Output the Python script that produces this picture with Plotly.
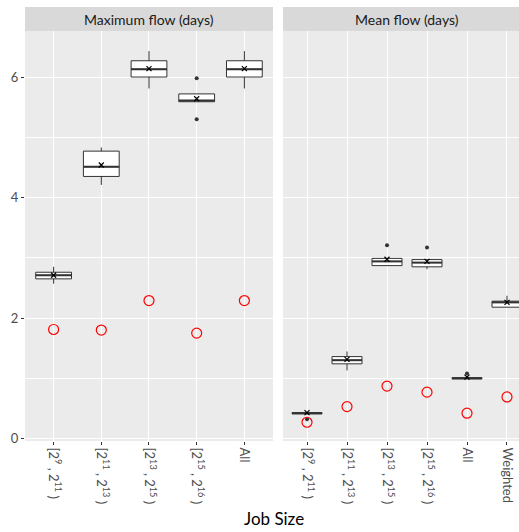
import plotly.graph_objects as go
from plotly.subplots import make_subplots

# ---------------- data ----------------
max_labels = ["[2<sup>9</sup> , 2<sup>11</sup> )", "[2<sup>11</sup> , 2<sup>13</sup> )",
              "[2<sup>13</sup> , 2<sup>15</sup> )", "[2<sup>15</sup> , 2<sup>16</sup> )", "All"]
mean_labels = max_labels + ["Weighted"]

max_q1 = [2.65, 4.35, 6.00, 5.59, 6.00]
max_median = [2.71, 4.51, 6.13, 5.61, 6.13]
max_q3 = [2.76, 4.77, 6.27, 5.72, 6.27]
max_low = [2.57, 4.21, 5.81, 5.59, 5.81]
max_high = [2.85, 4.83, 6.43, 5.72, 6.43]
max_avg = [2.71, 4.54, 6.14, 5.64, 6.14]
max_out_cat = [3, 3]
max_out_val = [5.98, 5.30]
max_ref = [1.81, 1.80, 2.29, 1.75, 2.29]

mean_q1 = [0.41, 1.24, 2.87, 2.85, 0.99, 2.18]
mean_median = [0.42, 1.30, 2.94, 2.92, 1.00, 2.26]
mean_q3 = [0.43, 1.36, 2.99, 2.97, 1.01, 2.28]
mean_low = [0.40, 1.13, 2.87, 2.81, 0.99, 2.18]
mean_high = [0.44, 1.445, 2.99, 2.97, 1.01, 2.37]
mean_avg = [0.43, 1.315, 2.975, 2.94, 1.02, 2.26]
mean_out_cat = [0, 2, 3, 4]
mean_out_val = [0.32, 3.21, 3.17, 1.08]
mean_ref = [0.27, 0.53, 0.87, 0.77, 0.42, 0.69]

panel_titles = ["Maximum flow (days)", "Mean flow (days)"]
x_title = "Job Size"

# ---------------- figure ----------------
BOXW = 0.75
fig = make_subplots(rows=1, cols=2, shared_yaxes=True, horizontal_spacing=0.02)

def add_panel(col, q1, med, q3, lo, hi, avg, ocat, oval, ref):
    cats = list(range(len(q1)))
    fig.add_trace(go.Box(x=cats, q1=q1, median=med, q3=q3, lowerfence=lo, upperfence=hi,
                         width=BOXW, fillcolor="white", whiskerwidth=0, boxpoints=False,
                         line=dict(color="#333333", width=1), showlegend=False,
                         hoverinfo="skip"), row=1, col=col)
    mx, my = [], []
    for i, m in enumerate(med):
        mx += [i - BOXW / 2, i + BOXW / 2, None]
        my += [m, m, None]
    fig.add_trace(go.Scatter(x=mx, y=my, mode="lines", line=dict(color="#333333", width=2),
                             showlegend=False, hoverinfo="skip"), row=1, col=col)
    fig.add_trace(go.Scatter(x=ocat, y=oval, mode="markers",
                             marker=dict(color="#333333", size=4), showlegend=False),
                  row=1, col=col)
    fig.add_trace(go.Scatter(x=cats, y=avg, mode="markers",
                             marker=dict(symbol="x-thin", size=5, color="black",
                                         line=dict(color="black", width=1.2)),
                             showlegend=False), row=1, col=col)
    fig.add_trace(go.Scatter(x=cats, y=ref, mode="markers",
                             marker=dict(symbol="circle-open", size=10, color="#FF0000",
                                         line=dict(color="#FF0000", width=1.2)),
                             showlegend=False), row=1, col=col)

add_panel(1, max_q1, max_median, max_q3, max_low, max_high, max_avg, max_out_cat, max_out_val, max_ref)
add_panel(2, mean_q1, mean_median, mean_q3, mean_low, mean_high, mean_avg, mean_out_cat, mean_out_val, mean_ref)

FONT = "Lato, 'Open Sans', sans-serif"
xcommon = dict(showgrid=True, gridcolor="white", gridwidth=1.1, zeroline=False,
               ticks="outside", ticklen=3, tickcolor="#333333", tickangle=90,
               tickfont=dict(family=FONT, size=13, color="#4D4D4D"), showline=False)
fig.update_xaxes(domain=[0, 0.502], range=[-0.6, 4.6], tickvals=list(range(len(max_labels))),
                 ticktext=max_labels, row=1, col=1, **xcommon)
fig.update_xaxes(domain=[0.5223, 1], range=[-0.6, 5.3], tickvals=list(range(len(mean_labels))),
                 ticktext=mean_labels, row=1, col=2, **xcommon)
fig.update_yaxes(range=[-0.041, 6.764], tick0=0, dtick=2, showgrid=True, gridcolor="white",
                 gridwidth=1.1, zeroline=False, ticks="outside", ticklen=3, tickcolor="#333333",
                 tickfont=dict(family=FONT, size=13, color="#4D4D4D"),
                 minor=dict(dtick=1, tick0=0, showgrid=True, gridcolor="white", gridwidth=0.5,
                            ticks=""))
fig.update_yaxes(ticks="", showticklabels=False, row=1, col=2)

STRIP_H = 24 / 411
for xr, xc, title in [("x", 2, panel_titles[0]), ("x2", 2.5, panel_titles[1])]:
    fig.add_shape(type="rect", xref=xr + " domain", yref="paper", x0=0, x1=1,
                  y0=1, y1=1 + STRIP_H, fillcolor="#D9D9D9", line=dict(width=0), layer="below")
    fig.add_annotation(text=title, xref=xr, yref="paper", x=xc, y=1 + STRIP_H / 2,
                       showarrow=False, xanchor="center", yanchor="middle",
                       font=dict(family=FONT, size=14, color="#1A1A1A"))

fig.add_annotation(text=x_title, xref="paper", yref="paper", x=0.505, y=-77.5 / 411,
                   showarrow=False, xanchor="center", yanchor="middle",
                   font=dict(family=FONT, size=17, color="black"))

fig.update_layout(width=519, height=532, margin=dict(l=25, r=0, t=31, b=90.5),
                  plot_bgcolor="#EBEBEB", paper_bgcolor="white", showlegend=False,
                  font=dict(family=FONT))

fig.write_html("out.html", config={"displayModeBar": False},
               post_script="document.body.style.margin='0';document.body.style.overflow='hidden';")
